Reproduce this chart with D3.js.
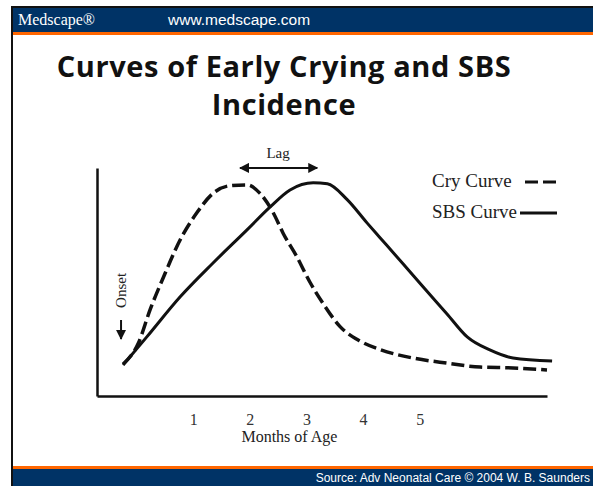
<!DOCTYPE html>
<html>
<head>
<meta charset="utf-8">
<script src="https://cdn.jsdelivr.net/npm/d3@7"></script>
<style>
  body { margin: 0; background: #fff; }
  svg { display: block; }
</style>
</head>
<body>
<div id="row"></div>
<script>

// months of age / relative incidence
var cryMonths = [-0.24, 0.03, 0.24, 0.47, 0.77, 1.07, 1.35, 1.65, 1.95, 2.18, 2.41, 2.59, 2.83, 3.06, 3.29, 3.59, 3.95, 4.3, 4.88, 5.48, 6.07, 6.65, 7.25];
var cryValues = [15, 25, 41, 56, 74, 87, 96, 99.6, 100, 96, 87, 77, 66, 54, 44, 33, 26, 22, 18, 15.6, 13.7, 13.3, 12.3];

var sbsMonths = [-0.24, 0.18, 0.77, 1.35, 1.95, 2.36, 2.71, 3.12, 3.37, 3.72, 4.07, 4.3, 4.71, 5.06, 5.48, 5.84, 6.24, 6.65, 7.34];
var sbsValues = [14.7, 28, 47, 63, 78.7, 89.6, 97.6, 101, 100.5, 93, 82, 75, 62.5, 51.7, 39, 28, 21.8, 18, 16.6];

var monthTicks = [1, 2, 3, 4, 5];
var legendNames = ["Cry Curve", "SBS Curve"];

var svgWidth = 593;
var svgHeight = 486;

var margin = {
  top: 168,
  bottom: 90,
  right: 46,
  left: 97
};

var width = svgWidth - margin.left - margin.right;
var height = svgHeight - margin.top - margin.bottom;

var navy = "#003366";
var orange = "#ff6600";
var serif = "'Liberation Serif', 'Times New Roman', serif";
var sans = "'Liberation Sans', Arial, sans-serif";

var svg = d3.select("#row")
  .append("svg")
  .attr("width", svgWidth)
  .attr("height", svgHeight);

// slide frame: header and footer bands
svg.append("rect").attr("x", 11).attr("y", 8).attr("width", svgWidth - 11).attr("height", 24).attr("fill", navy);
svg.append("rect").attr("x", 11).attr("y", 32).attr("width", svgWidth - 11).attr("height", 3).attr("fill", orange);
svg.append("rect").attr("x", 11).attr("y", 466).attr("width", svgWidth - 11).attr("height", 3).attr("fill", orange);
svg.append("rect").attr("x", 11).attr("y", 469).attr("width", svgWidth - 11).attr("height", 17).attr("fill", navy);
svg.append("line").attr("x1", 11).attr("x2", svgWidth).attr("y1", 7).attr("y2", 7).attr("stroke", "#111").attr("stroke-width", 2);
svg.append("line").attr("x1", 12).attr("x2", 12).attr("y1", 6).attr("y2", svgHeight).attr("stroke", "#111").attr("stroke-width", 2);

svg.append("text").attr("x", 18).attr("y", 25)
  .style("font-family", serif).style("font-size", "16px").attr("fill", "#fff")
  .text("Medscape®");
svg.append("text").attr("x", 168).attr("y", 25)
  .style("font-family", sans).style("font-size", "15.5px").attr("fill", "#fff")
  .text("www.medscape.com");
svg.append("text").attr("x", 590).attr("y", 482)
  .attr("text-anchor", "end")
  .style("font-family", sans).style("font-size", "12px").attr("fill", "#fff")
  .text("Source: Adv Neonatal Care © 2004 W. B. Saunders");

// title, two lines
var titleFont = "'Open Sans', 'DejaVu Sans', sans-serif";
svg.append("text")
  .attr("x", 284).attr("y", 77)
  .attr("text-anchor", "middle")
  .style("font-family", titleFont).style("font-weight", "bold")
  .style("font-size", "29px").style("letter-spacing", "0.6px")
  .attr("fill", "#111")
  .text("Curves of Early Crying and SBS");
svg.append("text")
  .attr("x", 284).attr("y", 115)
  .attr("text-anchor", "middle")
  .style("font-family", titleFont).style("font-weight", "bold")
  .style("font-size", "29px").style("letter-spacing", "0.6px")
  .attr("fill", "#111")
  .text("Incidence");

var chartGroup = svg.append("g")
  .attr("transform", `translate(${margin.left}, ${margin.top})`);

var xLinearScale = d3.scaleLinear()
  .domain([-0.7, 7.25])
  .range([0, width]);

var yLinearScale = d3.scaleLinear()
  .domain([0, 108])
  .range([height, 0]);

var bottomAxis = d3.axisBottom(xLinearScale)
  .tickValues(monthTicks)
  .tickFormat(d3.format("d"))
  .tickSize(0)
  .tickPadding(18);
var leftAxis = d3.axisLeft(yLinearScale).tickValues([]).tickSize(0);

var xAxis = chartGroup.append("g")
  .attr("transform", `translate(0, ${height})`)
  .call(bottomAxis);
xAxis.select(".domain").attr("stroke", "#111").attr("stroke-width", 2.5);
xAxis.selectAll("text")
  .style("font-family", serif).style("font-size", "16px").attr("fill", "#333");

var yAxis = chartGroup.append("g").call(leftAxis);
yAxis.select(".domain").attr("stroke", "#111").attr("stroke-width", 2.5);

chartGroup.append("text")
  .attr("x", xLinearScale(2.7))
  .attr("y", height + 46)
  .attr("text-anchor", "middle")
  .style("font-family", serif).style("font-size", "16px").attr("fill", "#222")
  .text("Months of Age");

var line = d3.line()
  .x(d => xLinearScale(d[0]))
  .y(d => yLinearScale(d[1]))
  .curve(d3.curveMonotoneX);

var cryData = d3.zip(cryMonths, cryValues);
var sbsData = d3.zip(sbsMonths, sbsValues);

chartGroup.append("path")
  .datum(cryData)
  .attr("d", line)
  .attr("fill", "none")
  .attr("stroke", "#111")
  .attr("stroke-width", 3.5)
  .attr("stroke-dasharray", "13,5");

chartGroup.append("path")
  .datum(sbsData)
  .attr("d", line)
  .attr("fill", "none")
  .attr("stroke", "#111")
  .attr("stroke-width", 3);

// lag arrow between the two peaks
svg.append("defs").append("marker")
  .attr("id", "head")
  .attr("viewBox", "0 0 10 10")
  .attr("refX", 9).attr("refY", 5)
  .attr("markerWidth", 5).attr("markerHeight", 5)
  .attr("orient", "auto-start-reverse")
  .append("path").attr("d", "M0,0L10,5L0,10z").attr("fill", "#111");

var cryPeak = cryMonths[d3.maxIndex(cryValues)];
var sbsPeak = sbsMonths[d3.maxIndex(sbsValues)];
var lagY = yLinearScale(100) - 17;

chartGroup.append("line")
  .attr("x1", xLinearScale(cryPeak) - 7)
  .attr("x2", xLinearScale(sbsPeak) + 4)
  .attr("y1", lagY).attr("y2", lagY)
  .attr("stroke", "#111").attr("stroke-width", 2)
  .attr("marker-start", "url(#head)")
  .attr("marker-end", "url(#head)");

chartGroup.append("text")
  .attr("x", (xLinearScale(cryPeak) + xLinearScale(sbsPeak)) / 2 - 2)
  .attr("y", lagY - 10)
  .attr("text-anchor", "middle")
  .style("font-family", serif).style("font-size", "15px").attr("fill", "#222")
  .text("Lag");

// onset label
var onsetX = xLinearScale(cryMonths[0]) - 2;
chartGroup.append("text")
  .attr("transform", `translate(${onsetX + 5}, ${yLinearScale(50)}) rotate(-90)`)
  .attr("text-anchor", "middle")
  .style("font-family", serif).style("font-size", "15px").attr("fill", "#222")
  .text("Onset");
chartGroup.append("line")
  .attr("x1", onsetX).attr("x2", onsetX)
  .attr("y1", yLinearScale(36)).attr("y2", yLinearScale(27))
  .attr("stroke", "#111").attr("stroke-width", 2)
  .attr("marker-end", "url(#head)");

// legend
var legend = chartGroup.selectAll(".legend")
  .data(legendNames)
  .enter()
  .append("g")
  .attr("transform", (d, i) => `translate(0, ${14 + i * 31})`);

legend.append("text")
  .attr("x", 335)
  .attr("y", 5)
  .style("font-family", serif).style("font-size", "19px").attr("fill", "#222")
  .text(d => d);

legend.append("line")
  .attr("x1", (d, i) => i === 0 ? 428 : 423)
  .attr("x2", 460)
  .attr("y1", 0).attr("y2", 0)
  .attr("stroke", "#111")
  .attr("stroke-width", 3)
  .attr("stroke-dasharray", (d, i) => i === 0 ? "13,5" : null);

</script>
</body>
</html>
